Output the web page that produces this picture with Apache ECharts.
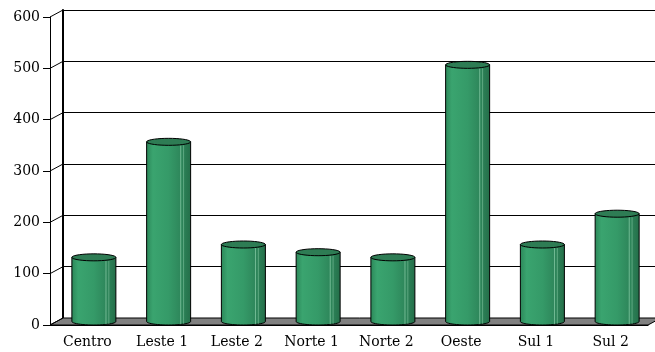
<!DOCTYPE html>
<html>
<head>
<meta charset="utf-8">
<script src="https://cdn.jsdelivr.net/npm/echarts@6/dist/echarts.min.js"></script>
<style>
  html, body { margin: 0; padding: 0; background: #fff; }
  #chart { width: 655px; height: 352px; }
</style>
</head>
<body>
<div id="chart"></div>
<script>
const categories = ['Centro', 'Leste 1', 'Leste 2', 'Norte 1', 'Norte 2', 'Oeste', 'Sul 1', 'Sul 2']
const values = [125, 350, 150, 135, 125, 500, 150, 210]
const yTicks = [0, 100, 200, 300, 400, 500, 600]

// depth offset of the 3D box (back wall vs front axes)
const DX = 13
const DY = 7
const barWidth = 44
const font = 'DejaVu Serif'

const chart = echarts.init(document.getElementById('chart'))

// small helper: points along an ellipse between two angles
function ellipsePts(cx, cy, rx, ry, a0, a1, n) {
  const pts = []
  for (let i = 0; i <= n; i++) {
    const a = a0 + (a1 - a0) * i / n
    pts.push([cx + rx * Math.cos(a), cy + ry * Math.sin(a)])
  }
  return pts
}

const bodyFill = new echarts.graphic.LinearGradient(0, 0, 1, 0, [
  { offset: 0, color: '#2b8658' },
  { offset: 0.15, color: '#3aa46f' },
  { offset: 0.5, color: '#359a68' },
  { offset: 0.8, color: '#2d8459' },
  { offset: 1, color: '#246e49' },
])

const option = {
  animation: false,
  grid: [
    // back wall
    { left: 63, top: 10, width: 598, height: 308 },
    // front axes
    { left: 50, top: 17, width: 598, height: 308 },
  ],
  xAxis: [
    {
      gridIndex: 0,
      type: 'category',
      data: categories,
      show: false,
    },
    {
      gridIndex: 1,
      type: 'category',
      data: categories,
      axisLine: { lineStyle: { color: '#000', width: 1 } },
      axisTick: { length: 5, lineStyle: { color: '#000' } },
      axisLabel: { color: '#000', fontFamily: font, fontSize: 14, margin: 10 },
      splitLine: { show: false },
    },
  ],
  yAxis: [
    {
      gridIndex: 0,
      type: 'value',
      min: 0,
      max: 600,
      interval: 100,
      axisLine: { show: true, lineStyle: { color: '#000', width: 2 } },
      axisTick: { show: false },
      axisLabel: { show: false },
      splitLine: { show: true, lineStyle: { color: '#000', width: 1 } },
    },
    {
      gridIndex: 1,
      type: 'value',
      min: 0,
      max: 600,
      interval: 100,
      axisLine: { show: true, lineStyle: { color: '#000', width: 1 } },
      axisTick: { show: true, length: 7, lineStyle: { color: '#000' } },
      axisLabel: { color: '#000', fontFamily: font, fontSize: 14, margin: 10 },
      splitLine: { show: false },
    },
  ],
  series: [
    // floor
    {
      type: 'custom',
      xAxisIndex: 1,
      yAxisIndex: 1,
      z: 1,
      silent: true,
      data: [[0, 0]],
      renderItem: (params, api) => {
        const cs = params.coordSys
        const y0 = api.coord([0, 0])[1]
        return {
          type: 'polygon',
          shape: {
            points: [
              [cs.x, y0],
              [cs.x + cs.width, y0],
              [cs.x + cs.width + DX, y0 - DY],
              [cs.x + DX, y0 - DY],
            ],
          },
          style: { fill: '#808080', stroke: '#000', lineWidth: 1 },
        }
      },
    },
    // side wall diagonals at each tick
    {
      type: 'custom',
      xAxisIndex: 1,
      yAxisIndex: 1,
      z: 1,
      silent: true,
      data: yTicks.map((v) => [0, v]),
      renderItem: (params, api) => {
        const x0 = params.coordSys.x
        const y = api.coord([0, api.value(1)])[1]
        return {
          type: 'line',
          shape: { x1: x0, y1: y, x2: x0 + DX, y2: y - DY },
          style: { stroke: '#000', lineWidth: 1 },
        }
      },
    },
    // cylinders
    {
      type: 'custom',
      xAxisIndex: 1,
      yAxisIndex: 1,
      z: 3,
      data: values.map((v, i) => [i, v]),
      encode: { x: 0, y: 1 },
      renderItem: (params, api) => {
        const top = api.coord([api.value(0), api.value(1)])
        const base = api.coord([api.value(0), 0])
        const cx = top[0] + DX / 2
        const topY = top[1] - DY / 2
        const botY = base[1] - DY / 2
        const rx = barWidth / 2
        const ry = 3.5
        const body = [[cx - rx, topY]]
          .concat(ellipsePts(cx, botY, rx, ry, Math.PI, 0, 24))
          .concat([[cx + rx, topY]])
        return {
          type: 'group',
          children: [
            {
              type: 'polygon',
              shape: { points: body },
              style: { fill: bodyFill, stroke: '#000', lineWidth: 1 },
            },
            {
              type: 'line',
              shape: { x1: cx + rx * 0.55, y1: topY + ry, x2: cx + rx * 0.55, y2: botY + ry * 0.8 },
              style: { stroke: 'rgba(170,230,195,0.55)', lineWidth: 1 },
            },
            {
              type: 'line',
              shape: { x1: cx + rx * 0.68, y1: topY + ry, x2: cx + rx * 0.68, y2: botY + ry * 0.7 },
              style: { stroke: 'rgba(170,230,195,0.4)', lineWidth: 1 },
            },
            {
              type: 'polygon',
              shape: { points: ellipsePts(cx, topY, rx, ry, 0, Math.PI * 2, 36) },
              style: { fill: '#2e7c54', stroke: '#000', lineWidth: 1 },
            },
          ],
        }
      },
    },
  ],
}

chart.setOption(option)
</script>
</body>
</html>
